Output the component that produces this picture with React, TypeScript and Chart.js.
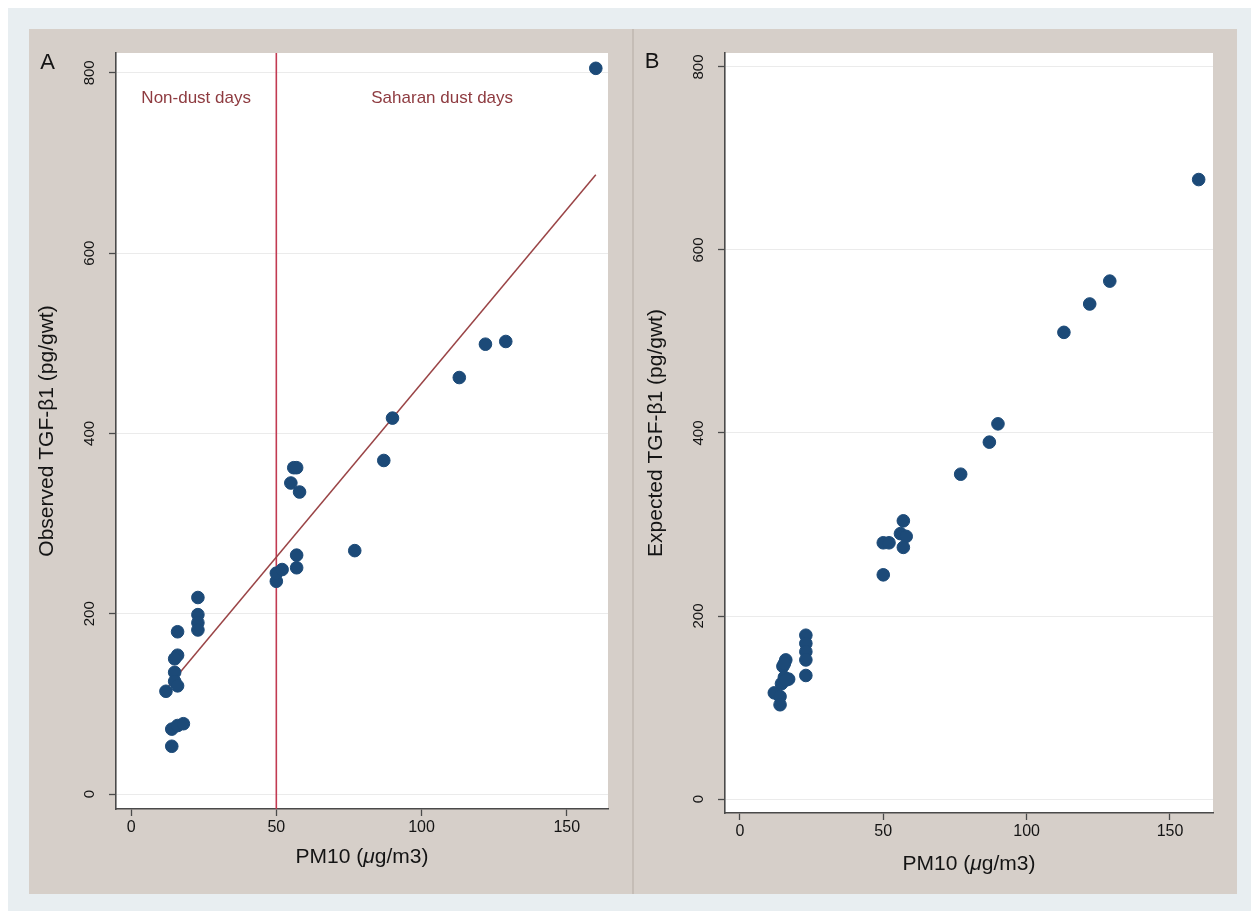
import React, { useEffect, useRef } from 'react';
import { Chart, registerables } from 'chart.js';

Chart.register(...registerables);

// ---------- data ----------
const xTickValues = [0, 50, 100, 150];
const yTickValues = [0, 200, 400, 600, 800];

// Panel A: observed TGF-β1 vs PM10
const obsPM10 = [12, 16, 16, 15, 15, 15, 16, 14, 16, 18, 14, 23, 23, 23, 23, 50, 50, 52, 57, 57, 77, 55, 58, 56, 57, 87, 90, 113, 122, 129, 160];
const obsTGF = [114, 180, 154, 150, 135, 125, 120, 72, 76, 78, 53, 218, 199, 190, 182, 236, 245, 249, 265, 251, 270, 345, 335, 362, 362, 370, 417, 462, 499, 502, 805];

// Fitted line in panel A
const fitPM10 = [13, 160];
const fitTGF = [120, 687];

// Dust threshold and region labels
const dustThreshold = 50;
const regionLabels = ['Non-dust days', 'Saharan dust days'];

// Panel B: expected TGF-β1 vs PM10
const expPM10 = [12, 14, 14, 14.5, 15, 16, 15.5, 17, 15.5, 16, 23, 23, 23, 23, 23, 50, 50, 52, 57, 56, 58, 57, 77, 87, 90, 113, 122, 129, 160];
const expTGF = [116, 112, 103, 126, 145, 152, 148, 131, 133, 130, 179, 170, 161, 152, 135, 245, 280, 280, 304, 290, 287, 275, 355, 390, 410, 510, 541, 566, 677];

const panelLetters = ['A', 'B'];
const yTitles = ['Observed TGF-β1 (pg/gwt)', 'Expected TGF-β1 (pg/gwt)'];
const xTitleParts = ['PM10 (', 'μ', 'g/m3)'];

// ---------- styling ----------
const FONT = '"Liberation Sans", Arial, Helvetica, sans-serif';
const NAVY = '#1c4a78';
const AXIS = '#4a4a4a';
const TEXT = '#141414';

const toPts = (xs: number[], ys: number[]) => xs.map((x, i) => ({ x, y: ys[i] }));

const decoPlugin = {
  id: 'deco',
  beforeDraw(chart: any) {
    const { ctx, chartArea: a } = chart;
    ctx.save();
    ctx.fillStyle = '#ffffff';
    ctx.fillRect(a.left, a.top, a.right - a.left, a.bottom - a.top);
    ctx.restore();
  },
  beforeDatasetsDraw(chart: any, _args: any, opts: any) {
    if (opts.threshold == null) return;
    const { ctx, chartArea: a, scales } = chart;
    const px = scales.x.getPixelForValue(opts.threshold);
    ctx.save();
    ctx.strokeStyle = '#c23a52';
    ctx.lineWidth = 1.6;
    ctx.beginPath();
    ctx.moveTo(px, a.top);
    ctx.lineTo(px, a.bottom);
    ctx.stroke();
    ctx.fillStyle = '#8e3b40';
    ctx.font = `17px ${FONT}`;
    ctx.textAlign = 'center';
    ctx.textBaseline = 'middle';
    const ly = a.top + 45;
    ctx.fillText(opts.regions[0], (a.left + px) / 2, ly);
    ctx.fillText(opts.regions[1], (px + a.right) / 2, ly);
    ctx.restore();
  },
  afterDraw(chart: any, _args: any, opts: any) {
    const { ctx, chartArea: a, height } = chart;
    ctx.save();
    ctx.fillStyle = TEXT;
    ctx.textBaseline = 'middle';
    ctx.textAlign = 'center';
    ctx.font = `22px ${FONT}`;
    ctx.fillText(opts.letter, opts.letterX, opts.letterY);

    // x-axis title with italic mu
    const fonts = opts.xTitle.map((_: string, i: number) => (i === 1 ? `italic 21px ${FONT}` : `21px ${FONT}`));
    const widths = opts.xTitle.map((t: string, i: number) => {
      ctx.font = fonts[i];
      return ctx.measureText(t).width;
    });
    const total = widths.reduce((s: number, w: number) => s + w, 0);
    let x = (a.left + a.right) / 2 - total / 2;
    const y = height - opts.xTitleOffset;
    ctx.textAlign = 'left';
    opts.xTitle.forEach((t: string, i: number) => {
      ctx.font = fonts[i];
      ctx.fillText(t, x, y);
      x += widths[i];
    });
    ctx.restore();
  },
};

type PanelSpec = {
  datasets: any[];
  xMin: number; xMax: number; yMin: number; yMax: number;
  padTop: number; padRight: number;
  yWidth: number; xHeight: number;
  yTitle: string; yTitlePad: number;
  deco: any;
};

function makeConfig(p: PanelSpec): any {
  return {
    type: 'scatter',
    data: { datasets: p.datasets },
    plugins: [decoPlugin],
    options: {
      animation: false,
      responsive: false,
      maintainAspectRatio: false,
      devicePixelRatio: 1,
      layout: { padding: { left: 0, top: p.padTop, right: p.padRight, bottom: 0 } },
      plugins: {
        legend: { display: false },
        tooltip: { enabled: false },
        deco: p.deco,
      },
      scales: {
        x: {
          type: 'linear',
          min: p.xMin,
          max: p.xMax,
          afterBuildTicks: (s: any) => { s.ticks = xTickValues.map((v) => ({ value: v })); },
          afterFit: (s: any) => { s.height = p.xHeight; },
          grid: { display: true, drawOnChartArea: false, drawTicks: true, tickLength: 7, tickColor: AXIS, tickWidth: 1.3 },
          border: { display: true, color: AXIS, width: 1.6 },
          ticks: { color: TEXT, padding: 2, font: { size: 16, family: FONT }, maxRotation: 0, minRotation: 0 },
          title: { display: false },
        },
        y: {
          type: 'linear',
          min: p.yMin,
          max: p.yMax,
          afterBuildTicks: (s: any) => { s.ticks = yTickValues.map((v) => ({ value: v })); },
          afterFit: (s: any) => { s.width = p.yWidth; },
          grid: { display: true, drawOnChartArea: true, color: '#ebebeb', lineWidth: 1, drawTicks: true, tickLength: 7, tickColor: AXIS, tickWidth: 1.3 },
          border: { display: true, color: AXIS, width: 1.6 },
          ticks: { color: TEXT, padding: 7, crossAlign: 'center', minRotation: 90, maxRotation: 90, font: { size: 15, family: FONT } },
          title: { display: true, text: p.yTitle, color: TEXT, font: { size: 21, family: FONT }, padding: { top: p.yTitlePad, bottom: 0 } },
        },
      },
    },
  };
}

export default function App() {
  const refA = useRef<HTMLCanvasElement>(null);
  const refB = useRef<HTMLCanvasElement>(null);

  useEffect(() => {
    const cfgA = makeConfig({
      datasets: [
        {
          data: toPts(fitPM10, fitTGF),
          showLine: true,
          borderColor: '#9a4446',
          borderWidth: 1.5,
          pointRadius: 0,
          order: 2,
        },
        {
          data: toPts(obsPM10, obsTGF),
          backgroundColor: NAVY,
          borderColor: NAVY,
          pointRadius: 6.3,
          pointBorderWidth: 1,
          order: 1,
        },
      ],
      xMin: -5.2, xMax: 164.2, yMin: -16.6, yMax: 822,
      padTop: 24, padRight: 25, yWidth: 87, xHeight: 85,
      yTitle: yTitles[0], yTitlePad: 6,
      deco: { threshold: dustThreshold, regions: regionLabels, letter: panelLetters[0], letterX: 18.5, letterY: 34, xTitle: xTitleParts, xTitleOffset: 37 },
    });
    const cfgB = makeConfig({
      datasets: [
        {
          data: toPts(expPM10, expTGF),
          backgroundColor: NAVY,
          borderColor: NAVY,
          pointRadius: 6.3,
          pointBorderWidth: 1,
        },
      ],
      xMin: -5.2, xMax: 165, yMin: -15.3, yMax: 815.3,
      padTop: 24, padRight: 24, yWidth: 92, xHeight: 81,
      yTitle: yTitles[1], yTitlePad: 10.4,
      deco: { threshold: null, letter: panelLetters[1], letterX: 19, letterY: 33, xTitle: xTitleParts, xTitleOffset: 30 },
    });
    const a = new Chart(refA.current as HTMLCanvasElement, cfgA);
    const b = new Chart(refB.current as HTMLCanvasElement, cfgB);
    return () => {
      a.destroy();
      b.destroy();
    };
  }, []);

  return (
    <div style={{ position: 'fixed', left: 0, top: 0, right: 0, bottom: 0, background: '#ffffff' }}>
      <div style={{ position: 'absolute', left: 8, top: 8, right: 0, bottom: 0, background: '#e8eef1' }}>
        <div style={{ position: 'absolute', left: 21, top: 21, width: 1208, height: 865, background: '#d6cfc9' }}>
          <canvas ref={refA} width={604} height={865} style={{ position: 'absolute', left: 0, top: 0 }} />
          <div style={{ position: 'absolute', left: 603, top: 0, width: 2, height: 865, background: '#c5bdb6' }} />
          <canvas ref={refB} width={604} height={865} style={{ position: 'absolute', left: 604, top: 0 }} />
        </div>
      </div>
    </div>
  );
}
